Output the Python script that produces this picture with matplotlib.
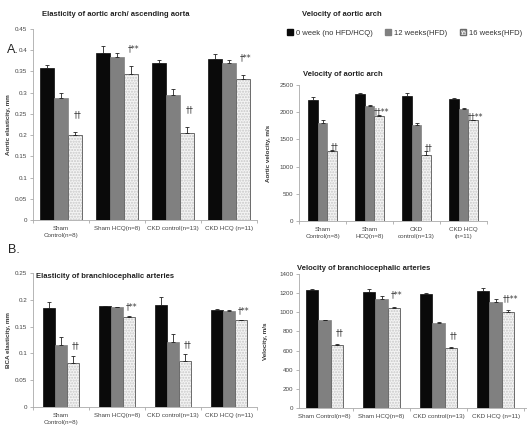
import matplotlib
matplotlib.use("Agg")
import matplotlib.pyplot as plt
from matplotlib.patches import Patch
import numpy as np

plt.rcParams['font.family'] = ['Liberation Sans', 'DejaVu Sans']

# groups: Sham control, Sham HCQ, CKD control, CKD HCQ
series_names = ["0 week (no HFD/HCQ)", "12 weeks(HFD)", "16 weeks(HFD)"]

# A - elasticity of aortic arch / ascending aorta
aa_el_w0 = [0.358, 0.394, 0.370, 0.379]
aa_el_w12 = [0.287, 0.385, 0.294, 0.369]
aa_el_w16 = [0.200, 0.345, 0.206, 0.333]
aa_el_e0 = [0.007, 0.017, 0.007, 0.013]
aa_el_e12 = [0.012, 0.008, 0.015, 0.009]
aa_el_e16 = [0.008, 0.018, 0.014, 0.008]
aa_el_notes = ["††", "†**", "††", "†**"]
aa_el_labels = ["Sham\nControl(n=8)", "Sham HCQ(n=8)", "CKD control(n=13)", "CKD HCQ (n=11)"]

# A - velocity of aortic arch
aa_v_w0 = [2220, 2330, 2290, 2250]
aa_v_w12 = [1800, 2110, 1760, 2060]
aa_v_w16 = [1290, 1930, 1220, 1850]
aa_v_e0 = [60, 20, 60, 20]
aa_v_e12 = [60, 25, 50, 15]
aa_v_e16 = [20, 10, 60, 10]
aa_v_notes = ["††", "††**", "††", "††**"]
aa_v_labels = ["Sham\nControl(n=8)", "Sham\nHCQ(n=8)", "CKD\ncontrol(n=13)", "CKD HCQ\n(n=11)"]

# B - elasticity of brachiocephalic arteries
bca_el_w0 = [0.184, 0.188, 0.190, 0.181]
bca_el_w12 = [0.116, 0.186, 0.121, 0.179]
bca_el_w16 = [0.083, 0.168, 0.086, 0.162]
bca_el_e0 = [0.012, 0.001, 0.015, 0.002]
bca_el_e12 = [0.014, 0.001, 0.015, 0.002]
bca_el_e16 = [0.013, 0.002, 0.013, 0.001]
bca_el_notes = ["††", "†**", "††", "†**"]
bca_el_labels = ["Sham\nControl(n=8)", "Sham HCQ(n=8)", "CKD control(n=13)", "CKD HCQ (n=11)"]

# B - velocity of brachiocephalic arteries
bca_v_w0 = [1230, 1210, 1195, 1225]
bca_v_w12 = [915, 1140, 890, 1105]
bca_v_w16 = [655, 1040, 630, 1000]
bca_v_e0 = [10, 30, 10, 30]
bca_v_e12 = [8, 30, 10, 30]
bca_v_e16 = [10, 20, 5, 25]
bca_v_notes = ["††", "†**", "††", "††**"]
bca_v_labels = ["Sham Control(n=8)", "Sham HCQ(n=8)", "CKD control(n=13)", "CKD HCQ (n=11)"]

W, H = 527, 426
fig = plt.figure(figsize=(W / 100, H / 100), dpi=100)


def px_axes(x0, x1, ytop, ybot):
    return fig.add_axes([x0 / W, 1 - ybot / H, (x1 - x0) / W, (ybot - ytop) / H])


def draw_panel(ax, vals, errs, notes, labels, ymax, step, width, ylabel, ylab_x, fmt, note_pad):
    x = np.arange(4)
    colors = ['#0a0a0a', '#808080']
    for i in range(3):
        pos = x + (i - 1) * width
        up = [np.zeros(4), errs[i]]
        if i < 2:
            ax.bar(pos, vals[i], width, color=colors[i], edgecolor=colors[i], linewidth=0.5)
        else:
            ax.bar(pos, vals[i], width, color='#f4f4f4', edgecolor='#c8c8c8',
                   hatch='......', linewidth=0)
            ax.bar(pos, vals[i], width, fill=False, edgecolor='#6a6a6a', linewidth=0.7)
        ax.errorbar(pos, vals[i], yerr=up, fmt='none', ecolor='#222', elinewidth=0.6,
                    capsize=1.3, capthick=0.6)
    for g in range(4):
        top = vals[2][g] + errs[2][g]
        ax.text(x[g] + width * 1.2, top + note_pad * ymax, notes[g], fontsize=5.5,
                family='DejaVu Sans', color='#333', ha='center', va='center')
    ax.set_xlim(-0.5, 3.5)
    ax.set_ylim(0, ymax)
    ticks = np.arange(0, ymax + step / 2, step)
    ax.set_yticks(ticks)
    ax.set_yticklabels([fmt % t for t in ticks])
    ax.set_xticks(x)
    ax.set_xticklabels(labels, fontsize=4.5, color='#444', linespacing=1.6)
    ax.set_xticks(np.arange(-0.5, 4, 1), minor=True)
    ax.tick_params(axis='x', which='major', length=0, pad=4)
    ax.tick_params(axis='x', which='minor', length=2, color='#999', width=0.5)
    ax.tick_params(axis='y', labelsize=4.5, labelcolor='#444', length=2, color='#999',
                   width=0.5, pad=2)
    for s in ['top', 'right']:
        ax.spines[s].set_visible(False)
    for s in ['left', 'bottom']:
        ax.spines[s].set_color('#aaa')
        ax.spines[s].set_linewidth(0.6)
    ax.set_ylabel(ylabel, fontsize=4.5, fontweight='bold', color='#333')
    ax.yaxis.set_label_coords(ylab_x, 0.5)


ax1 = px_axes(33, 257, 29, 220)
draw_panel(ax1, [aa_el_w0, aa_el_w12, aa_el_w16], [aa_el_e0, aa_el_e12, aa_el_e16],
           aa_el_notes, aa_el_labels, 0.45, 0.05, 0.25, "Aortic elasticity, mm", -0.10, '%g', 0.09)

ax2 = px_axes(299, 487, 85, 221)
draw_panel(ax2, [aa_v_w0, aa_v_w12, aa_v_w16], [aa_v_e0, aa_v_e12, aa_v_e16],
           aa_v_notes, aa_v_labels, 2500, 500, 0.21, "Aortic velocity, m/s", -0.15, '%d', 0.025)

ax3 = px_axes(33, 257, 273, 407)
draw_panel(ax3, [bca_el_w0, bca_el_w12, bca_el_w16], [bca_el_e0, bca_el_e12, bca_el_e16],
           bca_el_notes, bca_el_labels, 0.25, 0.05, 0.22, "BCA elasticity, mm", -0.10, '%g', 0.07)

ax4 = px_axes(299, 527, 274, 408)
draw_panel(ax4, [bca_v_w0, bca_v_w12, bca_v_w16], [bca_v_e0, bca_v_e12, bca_v_e16],
           bca_v_notes, bca_v_labels, 1400, 200, 0.22, "Velocity, m/s", -0.135, '%d', 0.085)
ax4.set_xlim(-0.45, 3.55)

# titles
fig.text(42 / W, 1 - 14 / H, "Elasticity of aortic arch/ ascending aorta", fontsize=5.5,
         fontweight='bold', color='#222', va='center')
fig.text(302 / W, 1 - 14 / H, "Velocity of aortic arch", fontsize=5.5,
         fontweight='bold', color='#222', va='center')
fig.text(303 / W, 1 - 74 / H, "Velocity of aortic arch", fontsize=5.5,
         fontweight='bold', color='#222', va='center')
fig.text(36 / W, 1 - 276 / H, "Elasticity of branchiocephalic arteries", fontsize=5.5,
         fontweight='bold', color='#222', va='center')
fig.text(297 / W, 1 - 268 / H, "Velocity of branchiocephalic arteries", fontsize=5.5,
         fontweight='bold', color='#222', va='center')
fig.text(7 / W, 1 - 50 / H, "A.", fontsize=9, color='#222', va='center')
fig.text(8 / W, 1 - 250 / H, "B.", fontsize=9, color='#222', va='center')

# legend
handles = [Patch(facecolor='#0a0a0a', edgecolor='#0a0a0a'),
           Patch(facecolor='#808080', edgecolor='#808080'),
           Patch(facecolor='#f4f4f4', edgecolor='#6a6a6a', hatch='......')]
fig.legend(handles, series_names, loc='center left', bbox_to_anchor=(280 / W, 1 - 33 / H),
           ncol=3, frameon=False, fontsize=5.5, handlelength=0.8, handleheight=0.8,
           handletextpad=0.4, columnspacing=1.6, labelcolor='#333')

fig.savefig('out.png', dpi=100)
